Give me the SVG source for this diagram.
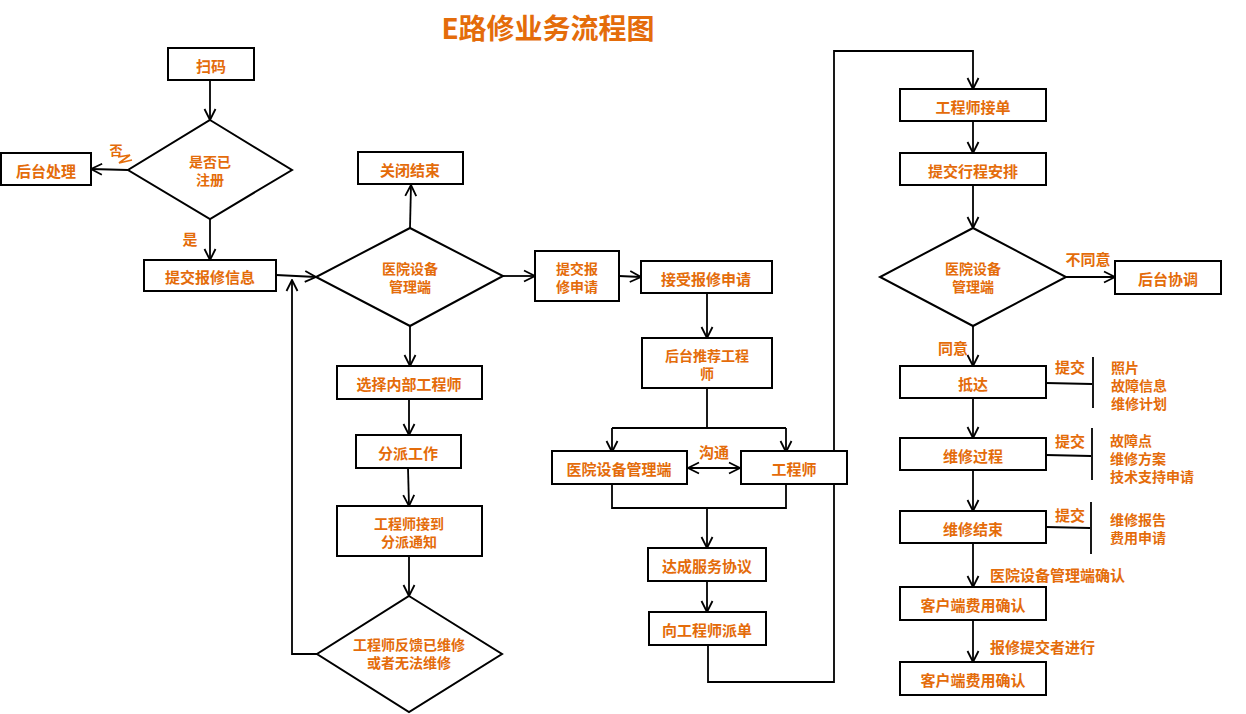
<svg xmlns="http://www.w3.org/2000/svg" width="1246" height="714" viewBox="0 0 1246 714">
<defs>
<style>
.box{fill:#fff;stroke:#000;stroke-width:2}
.t{font-family:"Noto Sans CJK SC","Liberation Sans",sans-serif;font-weight:bold;font-size:15px;fill:#E46C0A;text-anchor:middle;dominant-baseline:central}
.l{font-family:"Noto Sans CJK SC","Liberation Sans",sans-serif;font-weight:bold;font-size:15px;fill:#E46C0A;text-anchor:start;dominant-baseline:central}
.s{font-size:14px}
.c{fill:none;stroke:#000;stroke-width:1.8}
</style>
<marker id="arr" viewBox="0 0 14 14" refX="13" refY="7" markerWidth="14" markerHeight="14" orient="auto-start-reverse" markerUnits="userSpaceOnUse">
<path d="M2,1.5 L13,7 L2,12.5" fill="none" stroke="#000" stroke-width="1.8"/>
</marker>
</defs>
<rect width="1246" height="714" fill="#fff"/>
<text x="548" y="27" class="t" style="font-size:28px">E路修业务流程图</text>

<g id="connectors">
<path class="c" d="M210,80 L210,120" marker-end="url(#arr)"/>
<path class="c" d="M128,170 L91,169" marker-end="url(#arr)"/>
<path class="c" d="M210,219 L210,260" marker-end="url(#arr)"/>
<path class="c" d="M276,275 L316,277" marker-end="url(#arr)"/>
<path class="c" d="M410,228 L411,185" marker-end="url(#arr)"/>
<path class="c" d="M503,276 L535,276" marker-end="url(#arr)"/>
<path class="c" d="M619,276 L641,277" marker-end="url(#arr)"/>
<path class="c" d="M707,293 L707,338" marker-end="url(#arr)"/>
<path class="c" d="M707,388 L707,428"/>
<path class="c" d="M612,428 L786,428"/>
<path class="c" d="M612,428 L612,452" marker-end="url(#arr)"/>
<path class="c" d="M786,428 L786,452" marker-end="url(#arr)"/>
<path class="c" d="M688,468 L740,468" marker-start="url(#arr)" marker-end="url(#arr)"/>
<path class="c" d="M612,484 L612,508 L786,508 L786,484"/>
<path class="c" d="M707,508 L707,548" marker-end="url(#arr)"/>
<path class="c" d="M707,581 L707,612" marker-end="url(#arr)"/>
<path class="c" d="M708,645 L708,682 L834,682 L834,51 L973,51 L973,89" marker-end="url(#arr)"/>
<path class="c" d="M973,121 L973,153" marker-end="url(#arr)"/>
<path class="c" d="M973,185 L973,228" marker-end="url(#arr)"/>
<path class="c" d="M1066,277 L1115,277" marker-end="url(#arr)"/>
<path class="c" d="M973,326 L973,366" marker-end="url(#arr)"/>
<path class="c" d="M973,398 L973,438" marker-end="url(#arr)"/>
<path class="c" d="M973,470 L973,511" marker-end="url(#arr)"/>
<path class="c" d="M973,543 L973,587" marker-end="url(#arr)"/>
<path class="c" d="M973,620 L973,662" marker-end="url(#arr)"/>
<path class="c" d="M1046,383 L1092,384 M1093,357 L1093,408"/>
<path class="c" d="M1046,455 L1091,456 M1092,428 L1092,480"/>
<path class="c" d="M1046,527 L1090,528 M1091,502 L1091,554"/>
<path class="c" d="M410,326 L410,366" marker-end="url(#arr)"/>
<path class="c" d="M409,399 L409,435" marker-end="url(#arr)"/>
<path class="c" d="M408,468 L409,506" marker-end="url(#arr)"/>
<path class="c" d="M409,556 L409,596" marker-end="url(#arr)"/>
<path class="c" d="M317,654 L292,654 L292,280" marker-end="url(#arr)"/>
</g>

<g id="labels">
<text x="116" y="149" class="t" style="font-size:13px">否</text>
<path d="M118,157 L130,155 L119,163 L132,160" fill="none" stroke="#E46C0A" stroke-width="1.6"/>
<text x="190" y="238" class="t">是</text>
<text x="714" y="451" class="t">沟通</text>
<text x="1088" y="258" class="t">不同意</text>
<text x="953" y="347" class="t">同意</text>
<text x="1070" y="366" class="t">提交</text>
<text x="1111" y="367" class="l s">照片</text>
<text x="1111" y="385" class="l s">故障信息</text>
<text x="1111" y="403" class="l s">维修计划</text>
<text x="1070" y="440" class="t">提交</text>
<text x="1110" y="440" class="l s">故障点</text>
<text x="1110" y="458" class="l s">维修方案</text>
<text x="1110" y="476" class="l s">技术支持申请</text>
<text x="1070" y="514" class="t">提交</text>
<text x="1110" y="519" class="l s">维修报告</text>
<text x="1110" y="537" class="l s">费用申请</text>
<text x="990" y="574" class="l">医院设备管理端确认</text>
<text x="990" y="646" class="l">报修提交者进行</text>
</g>

<g id="n-scan"><rect class="box" x="168" y="48" width="86" height="32"/><text x="211" y="65" class="t">扫码</text></g>
<g id="n-registered"><polygon class="box" points="210,120 292,170 210,219 128,170"/><text x="210" y="161" class="t s">是否已</text><text x="210" y="179" class="t s">注册</text></g>
<g id="n-backend"><rect class="box" x="1" y="153" width="90" height="32"/><text x="46" y="170" class="t">后台处理</text></g>
<g id="n-submit-info"><rect class="box" x="144" y="260" width="132" height="31"/><text x="210" y="276" class="t">提交报修信息</text></g>
<g id="n-hosp1"><polygon class="box" points="410,228 503,276 410,326 316,277"/><text x="410" y="268" class="t s">医院设备</text><text x="410" y="286" class="t s">管理端</text></g>
<g id="n-close"><rect class="box" x="358" y="152" width="105" height="32"/><text x="410" y="169" class="t">关闭结束</text></g>
<g id="n-submit-req"><rect class="box" x="535" y="251" width="84" height="50"/><text x="577" y="268" class="t s">提交报</text><text x="577" y="286" class="t s">修申请</text></g>
<g id="n-accept"><rect class="box" x="641" y="261" width="131" height="32"/><text x="706" y="278" class="t">接受报修申请</text></g>
<g id="n-recommend"><rect class="box" x="642" y="338" width="130" height="50"/><text x="707" y="355" class="t s">后台推荐工程</text><text x="707" y="373" class="t s">师</text></g>
<g id="n-hosp2"><rect class="box" x="552" y="451" width="135" height="33"/><text x="619" y="468" class="t">医院设备管理端</text></g>
<g id="n-eng"><rect class="box" x="741" y="451" width="106" height="33"/><text x="794" y="468" class="t">工程师</text></g>
<g id="n-agree"><rect class="box" x="648" y="548" width="118" height="33"/><text x="707" y="565" class="t">达成服务协议</text></g>
<g id="n-dispatch"><rect class="box" x="649" y="612" width="117" height="33"/><text x="707" y="629" class="t">向工程师派单</text></g>
<g id="n-eng-accept"><rect class="box" x="900" y="89" width="146" height="32"/><text x="973" y="106" class="t">工程师接单</text></g>
<g id="n-schedule"><rect class="box" x="900" y="153" width="146" height="32"/><text x="973" y="170" class="t">提交行程安排</text></g>
<g id="n-hosp3"><polygon class="box" points="973,228 1066,277 973,326 880,277"/><text x="973" y="268" class="t s">医院设备</text><text x="973" y="286" class="t s">管理端</text></g>
<g id="n-coord"><rect class="box" x="1115" y="261" width="106" height="33"/><text x="1168" y="278" class="t">后台协调</text></g>
<g id="n-arrive"><rect class="box" x="900" y="366" width="146" height="32"/><text x="973" y="383" class="t">抵达</text></g>
<g id="n-process"><rect class="box" x="900" y="438" width="146" height="32"/><text x="973" y="455" class="t">维修过程</text></g>
<g id="n-finish"><rect class="box" x="900" y="511" width="146" height="32"/><text x="973" y="528" class="t">维修结束</text></g>
<g id="n-confirm1"><rect class="box" x="900" y="587" width="146" height="33"/><text x="973" y="604" class="t">客户端费用确认</text></g>
<g id="n-confirm2"><rect class="box" x="900" y="662" width="146" height="33"/><text x="973" y="679" class="t">客户端费用确认</text></g>
<g id="n-select"><rect class="box" x="337" y="366" width="145" height="33"/><text x="409" y="383" class="t">选择内部工程师</text></g>
<g id="n-assign"><rect class="box" x="356" y="435" width="105" height="33"/><text x="408" y="452" class="t">分派工作</text></g>
<g id="n-notice"><rect class="box" x="337" y="506" width="145" height="50"/><text x="409" y="523" class="t s">工程师接到</text><text x="409" y="541" class="t s">分派通知</text></g>
<g id="n-feedback"><polygon class="box" points="409,596 502,654 409,712 317,654"/><text x="409" y="644" class="t s">工程师反馈已维修</text><text x="409" y="662" class="t s">或者无法维修</text></g>
</svg>
